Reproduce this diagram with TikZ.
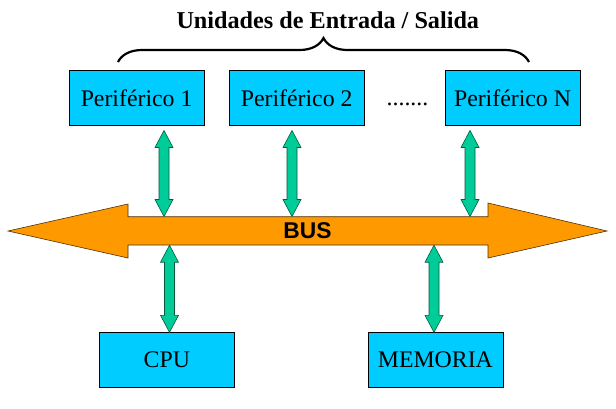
\documentclass[tikz,border=0pt]{standalone}
\usepackage{fontspec}
\setmainfont{Liberation Serif}
\newfontfamily\busfont{Liberation Sans}
\usepackage{tikz}
\usetikzlibrary{positioning, calc, decorations.pathreplacing}
\definecolor{unitblue}{RGB}{0,204,255}
\definecolor{linkgreen}{RGB}{0,204,153}
\definecolor{linkdark}{RGB}{0,90,60}
\definecolor{busorange}{RGB}{255,153,0}
\definecolor{busdark}{RGB}{80,50,10}
\tikzset{
  unit/.style={rectangle, draw=black, fill=unitblue,
    minimum width=135pt, minimum height=54.5pt, inner sep=0pt,
    line width=0.8pt, font=\fontsize{23.8}{26}\selectfont},
  link/.style={fill=linkgreen, draw=linkdark, line width=0.6pt},
  busbody/.style={fill=busorange, draw=busdark, line width=0.6pt},
  brace/.style={decorate, decoration={brace, amplitude=24pt}, line width=2.2pt},
  title/.style={font=\fontsize{24.2}{26}\selectfont\bfseries}
}
% vertical block arrow with a head at both ends, from tip #1 down to tip #2
\newcommand{\linkarrow}[2]{%
  \filldraw[link] (#1) -- ++(9,17) -- ++(-4,0) -- ($(#2)+(5,-17)$) -- ++(4,0)
    -- (#2) -- ++(-9,-17) -- ++(4,0) -- ($(#1)+(-5,17)$) -- ++(-4,0) -- cycle;}

\begin{document}
\begin{tikzpicture}[x=1pt, y=-1pt]
  \useasboundingbox (0,0) rectangle (616,408);

  % peripherals
  \node[unit] (p1) at (136.6,97.8) {Periférico 1};
  \node[unit, right=24.3pt of p1] (p2) {Periférico 2};
  \node[unit, right=80pt of p2] (pn) {Periférico N};
  \node[anchor=base, font=\fontsize{23.8}{26}\selectfont, inner sep=0pt] (dots) at (407.5,105) {.......};

  % brace and title
  \coordinate (bl) at (118,62);
  \coordinate (br) at (529,62);
  \draw[brace] (bl) -- (br);
  \node[title] (io) at (327.8,20.5) {Unidades de Entrada / Salida};

  % bus
  \filldraw[busbody] (8,231) -- (128,204) -- (128,216.7) -- (488,216.7) -- (488,203)
    -- (607,231) -- (488,258) -- (488,245) -- (128,245) -- (128,258) -- cycle;
  \node[minimum height=28.3pt, inner sep=0pt, font=\busfont\bfseries\fontsize{22.8}{24}\selectfont] (bus) at (307.5,230.85) {BUS};

  % cpu and memory
  \node[unit] (cpu) at (166.8,360) {CPU};
  \node[unit] (mem) at (435.4,360) {MEMORIA};

  % links
  \foreach \nm/\x in {p1/164, p2/292, pn/470} {
    \coordinate (\nm-a) at ($(\x,0 |- \nm.south)+(0,5)$);
    \coordinate (\nm-b) at (\x,0 |- bus.north);
    \linkarrow{\nm-a}{\nm-b}
  }
  \foreach \nm/\x in {cpu/169.5, mem/434} {
    \coordinate (\nm-a) at (\x,0 |- bus.south);
    \coordinate (\nm-b) at (\x,0 |- \nm.north);
    \linkarrow{\nm-a}{\nm-b}
  }
\end{tikzpicture}
\end{document}
